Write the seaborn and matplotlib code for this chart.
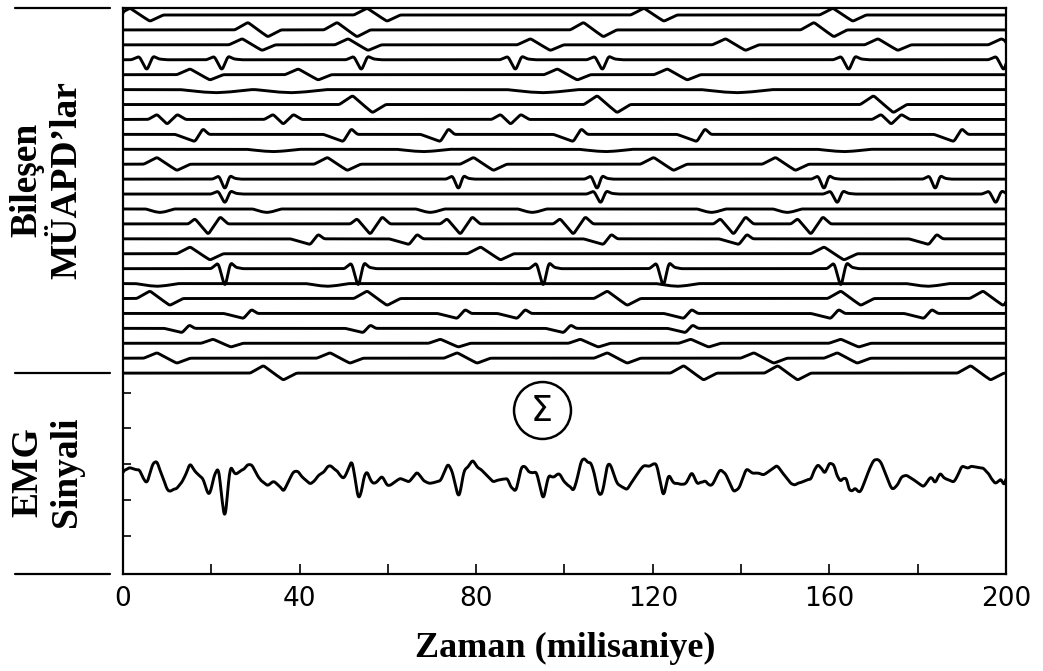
"""Bileşen MÜAPD'lar ve EMG sinyali (toplam)"""
import numpy as np
import pandas as pd
import matplotlib
matplotlib.use("Agg")
from matplotlib import pyplot as plt
import seaborn as sns


# -----------------------------
# Data
# -----------------------------
# MUAP template shapes: time offsets (ms) and amplitudes (trace-spacing units)
BI_DT = [-3.0, 0.0, 2.2, 4.5, 7.5]           # biphasic: up, then down
BI_AMP = [0.0, 0.46, 0.02, -0.42, 0.0]
V_DT = [-3.5, -1.7, 0.0, 1.4, 2.8, 4.5]      # sharp negative spike
V_AMP = [0.0, 0.22, -0.72, 0.24, 0.05, 0.0]
DIP_DT = [-4.0, -1.5, 0.0, 1.5, 4.0]         # slow shallow dip
DIP_AMP = [0.0, -0.2, -0.26, -0.2, 0.0]
TRI_DT = [-2.0, 0.0, 2.3, 4.6, 6.5]          # small up-down-up
TRI_AMP = [0.0, 0.34, -0.32, 0.34, 0.0]
NP_DT = [-4.5, 0.0, 1.8, 3.2]                # down, then quick up
NP_AMP = [0.0, -0.48, 0.38, 0.0]
W_DT = [-4.5, -3.0, 0.0, 2.7, 4.5]           # up-down-up
W_AMP = [0.0, 0.35, -0.7, 0.48, 0.0]

# one entry per component trace, top to bottom
TRACE_SHAPES = ["bi", "bi", "bi", "v", "bi", "dip", "bi", "tri", "np", "dip",
                "bi", "v", "v", "dip", "w", "np", "bi", "v", "dip", "bi",
                "np", "np", "bi", "bi", "bi"]
TRACE_GAIN = [1.0, 1.1, 0.9, 1.0, 0.85, 0.8, 1.3, 1.0, 1.0, 0.6,
              1.0, 1.0, 0.9, 0.9, 1.0, 0.8, 1.0, 1.75, 0.7, 1.1,
              0.7, 0.6, 0.6, 0.8, 1.1]
TRACE_WIDTH = [1.0, 1.0, 1.0, 1.0, 1.0, 2.0, 1.0, 1.0, 1.0, 1.5,
               1.0, 0.8, 0.9, 0.8, 1.0, 1.0, 1.0, 0.9, 1.2, 1.0,
               1.0, 0.9, 0.9, 1.0, 1.0]
FIRING_TIMES = [
    [1.6, 55.3, 118.0, 160.8],
    [28.3, 48.5, 104.3, 156.5],
    [27.0, 51.0, 92.3, 136.5, 171.0, 199.0],
    [5.4, 22.4, 54.0, 88.9, 108.6, 164.4, 199.5],
    [15.2, 39.7, 98.4, 123.3],
    [21.0, 38.0, 95.0, 139.0],
    [52.0, 107.4, 170.0],
    [7.7, 34.0, 85.5, 171.7],
    [16.3, 49.9, 71.9, 102.0, 130.0, 188.2],
    [34.0, 68.0, 109.3, 163.3],
    [7.7, 46.3, 79.4, 120.2, 147.8],
    [23.1, 76.0, 107.4, 158.8, 184.0],
    [23.1, 108.2, 161.8, 197.7],
    [8.4, 32.6, 69.6, 92.7, 133.3, 150.5],
    [19.3, 56.0, 76.4, 102.0, 138.3, 155.8],
    [42.4, 64.8, 108.8, 139.5, 182.5],
    [15.2, 81.0, 158.8],
    [23.1, 53.3, 95.2, 122.4, 162.6],
    [7.7, 46.3, 125.6, 182.3],
    [6.1, 55.3, 109.7, 162.6, 194.8],
    [27.3, 75.7, 89.3, 127.0, 160.3, 181.4],
    [13.4, 54.4, 99.8, 127.4],
    [20.4, 71.9, 103.6, 128.6, 162.6],
    [7.7, 46.9, 75.7, 109.7, 142.9, 161.8],
    [31.8, 127.0, 148.3, 192.0],
]
EMG_GAIN = 1.05

X_TICKS = [0, 40, 80, 120, 160, 200]
X_MINOR = [20, 60, 100, 140, 180]

TEMPLATES = {
    "bi": (BI_DT, BI_AMP), "v": (V_DT, V_AMP), "dip": (DIP_DT, DIP_AMP),
    "tri": (TRI_DT, TRI_AMP), "np": (NP_DT, NP_AMP), "w": (W_DT, W_AMP),
}

# layout (axis units: one unit = distance between two traces)
Y_TOP = 0.47
Y_BOTTOM = -37.46
EMG_BASE = -30.8
EMG_TICKS = [-25.3, -27.7, -30.1, -32.5, -34.9]
SIGMA_POS = (94.8, -26.45)


def build_trace(t, times, shape, gain, width):
    """Place the template of one motor unit at each of its firing times"""
    dt, amp = TEMPLATES[shape]
    y = np.zeros_like(t)
    for t0 in times:
        y += gain * np.interp(t, t0 + width * np.array(dt), amp, left=0, right=0)
    # round the corners a little, like a pen trace
    kernel = np.ones(7) / 7
    return np.convolve(y, kernel, mode="same")


t = np.arange(0, 200.05, 0.1)
frames = []
total = np.zeros_like(t)
for i, (times, shape, gain, width) in enumerate(
        zip(FIRING_TIMES, TRACE_SHAPES, TRACE_GAIN, TRACE_WIDTH)):
    trace = build_trace(t, times, shape, gain, width)
    total += trace
    frames.append(pd.DataFrame({"t": t, "y": -i + trace, "unit": i}))
frames.append(pd.DataFrame({"t": t, "y": EMG_BASE + EMG_GAIN * total,
                            "unit": len(FIRING_TIMES)}))
df = pd.concat(frames, ignore_index=True)

# ---------------
# Graph
# ---------------
sns.set_style("ticks")
plt.rcParams["font.family"] = ["DejaVu Sans"]
plt.rcParams["text.color"] = "black"

fig = plt.figure(figsize=(10.43, 6.71), dpi=100)
ax = fig.add_axes([0.1179, 0.1446, 0.8466, 0.8435])

sns.lineplot(data=df, x="t", y="y", units="unit", estimator=None, sort=False,
             color="black", linewidth=2.1, ax=ax, legend=False)

ax.set_xlim(0, 200)
ax.set_ylim(Y_BOTTOM, Y_TOP)
ax.set_xlabel("")
ax.set_ylabel("")
for side in ["left", "right", "top", "bottom"]:
    ax.spines[side].set_visible(True)
    ax.spines[side].set_linewidth(1.6)
    ax.spines[side].set_color("black")

ax.set_xticks(X_TICKS)
ax.set_xticks(X_MINOR, minor=True)
ax.tick_params(axis="x", which="both", direction="in", length=7, width=1.2,
               pad=9, labelsize=19, colors="black", labelcolor="black")
ax.set_yticks(EMG_TICKS)
ax.set_yticklabels([])
ax.tick_params(axis="y", direction="in", length=6, width=1.2, colors="black")

# sum symbol
ax.plot([SIGMA_POS[0]], [SIGMA_POS[1]], marker="o", ms=41, mfc="none",
        mec="black", mew=1.8)
ax.text(SIGMA_POS[0], SIGMA_POS[1] - 0.1, "Σ", ha="center", va="center",
        fontsize=25, color="black")

# short separators left of the axis
for yy in [Y_TOP, -24.0, Y_BOTTOM]:
    ax.plot([-0.1223, -0.0147], [yy, yy], transform=ax.get_yaxis_transform(),
            clip_on=False, color="black", lw=1.6)

label_font = dict(family="Liberation Serif", fontweight="bold", fontsize=27,
                  rotation=90, ha="center", va="center", linespacing=1.15,
                  color="black")
fig.text(0.045, 0.732, "Bileşen\nMÜAPD’lar", **label_font)
fig.text(0.045, 0.297, "EMG\nSinyali", **label_font)
fig.text(0.5417, 0.034, "Zaman (milisaniye)", family="Liberation Serif",
         fontweight="bold", fontsize=26, ha="center", va="center",
         color="black")

fig.savefig("out.png", dpi=100)
